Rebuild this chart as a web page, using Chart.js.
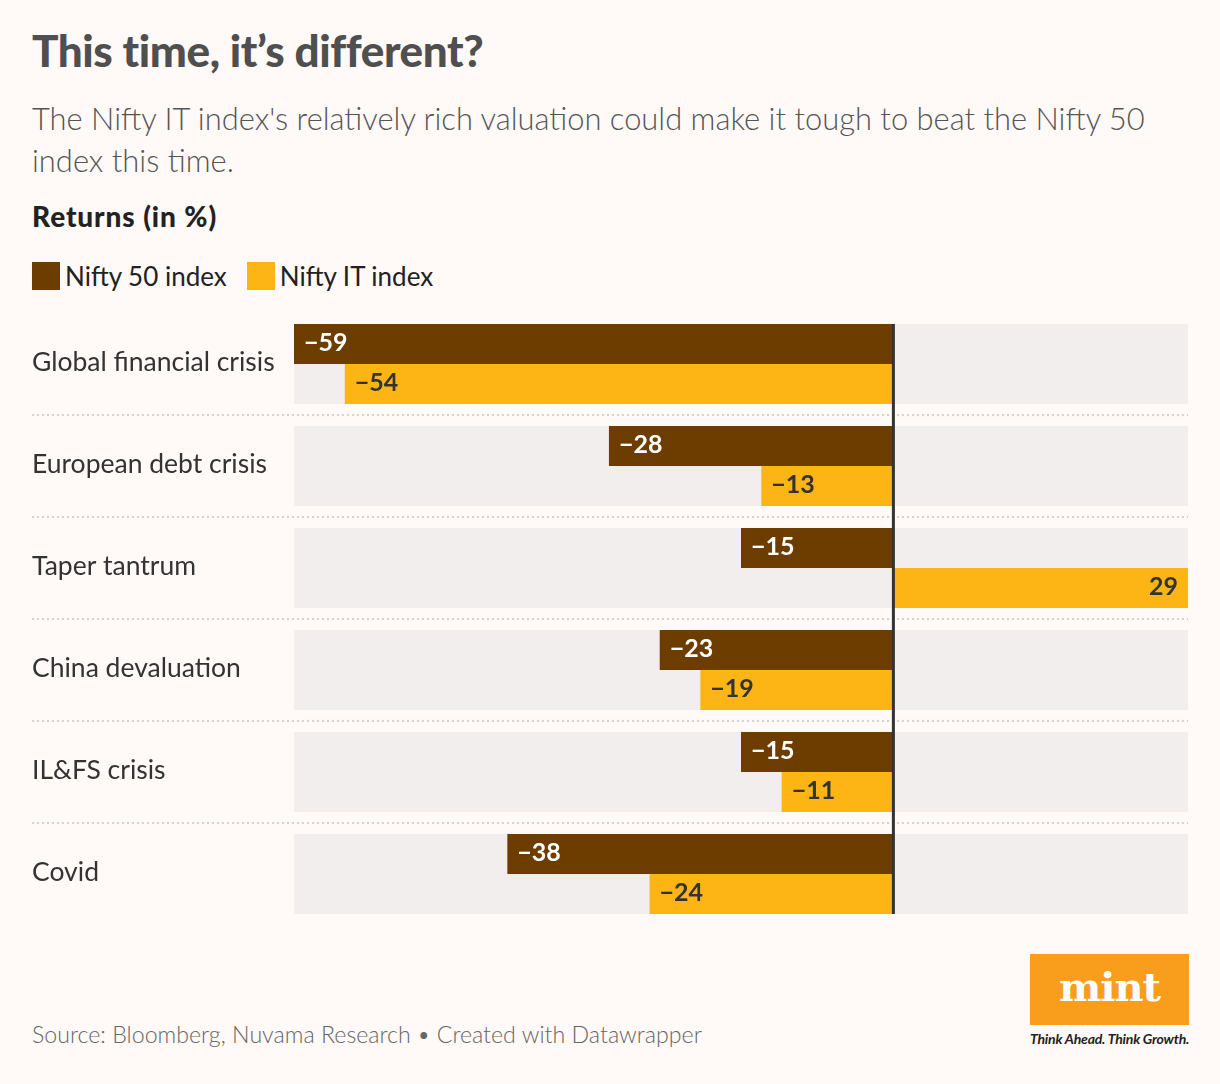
<!DOCTYPE html>
<html>
<head>
<meta charset="utf-8">
<script src="https://cdn.jsdelivr.net/npm/chart.js@4/dist/chart.umd.min.js"></script>
<style>
  html, body { margin:0; padding:0; background:#fff9f8; }
  body { width:1220px; height:1084px; position:relative; overflow:hidden; font-family: Lato, "Open Sans", sans-serif; }
  .title { position:absolute; left:32px; top:24px; font-size:44px; font-weight:900; color:#4f4f4f; letter-spacing:-0.4px; }
  .sub { position:absolute; left:32px; top:98px; width:1160px; font-size:30.9px; font-weight:300; color:#555; line-height:42px; }
  .ret { position:absolute; left:32px; top:199px; font-size:28px; font-weight:900; color:#222; letter-spacing:0.9px; }
  .legend { position:absolute; left:32px; top:260px; font-size:26px; color:#222; display:flex; align-items:center; }
  .legend .sw { width:28px; height:28px; display:inline-block; margin-right:5px; }
  .legend .item { display:flex; align-items:center; margin-right:20px; }
  .src { position:absolute; left:32px; top:1020px; font-size:23.2px; font-weight:300; color:#666; }
  .logo { position:absolute; left:1030px; top:954px; width:159px; height:71px; background:#f99d1c; color:#fff; font-family:"DejaVu Serif", serif; font-weight:700; font-size:40px; text-align:center; line-height:66px; letter-spacing:-1px; }
  .tag { position:absolute; left:1030px; top:1030px; font-size:14px; font-weight:700; font-style:italic; color:#222; letter-spacing:-0.2px; }
  #wrap { position:absolute; left:0; top:313px; width:1220px; height:612px; }
</style>
</head>
<body>
<div class="title">This time, it’s different?</div>
<div class="sub">The Nifty IT index's relatively rich valuation could make it tough to beat the Nifty 50 index this time.</div>
<div class="ret">Returns (in %)</div>
<div class="legend">
  <span class="item"><span class="sw" style="background:#6d3d00"></span>Nifty 50 index</span>
  <span class="item"><span class="sw" style="background:#fdb515"></span>Nifty IT index</span>
</div>
<div id="wrap"><canvas id="c"></canvas></div>
<div class="src">Source: Bloomberg, Nuvama Research • Created with Datawrapper</div>
<div class="logo">mint</div>
<div class="tag">Think Ahead. Think Growth.</div>
<script>
const categories = ["Global financial crisis", "European debt crisis", "Taper tantrum", "China devaluation", "IL&FS crisis", "Covid"];
const nifty50 = [-59, -28, -15, -23, -15, -38];
const niftyIT = [-54, -13, 29, -19, -11, -24];
const seriesNames = ["Nifty 50 index", "Nifty IT index"];
const xMin = -59, xMax = 29;

const BROWN = "#6d3d00", YELLOW = "#fdb515", BAND = "#f2eeed";

const bgPlugin = {
  id: 'bg',
  beforeDatasetsDraw(chart) {
    const {ctx, chartArea, scales} = chart;
    const y = scales.y;
    const step = y.getPixelForValue(1) - y.getPixelForValue(0);
    const bandH = step * 80/102;
    ctx.save();
    ctx.fillStyle = BAND;
    categories.forEach((c, i) => {
      const cy = y.getPixelForValue(i);
      ctx.fillRect(chartArea.left, cy - bandH/2, chartArea.right - chartArea.left, bandH);
    });
    ctx.strokeStyle = "#d6d2d1";
    ctx.lineWidth = 2;
    ctx.setLineDash([2, 3]);
    for (let i = 0; i < categories.length - 1; i++) {
      const yy = Math.round((y.getPixelForValue(i) + y.getPixelForValue(i+1)) / 2);
      ctx.beginPath();
      ctx.moveTo(32, yy);
      ctx.lineTo(chartArea.right, yy);
      ctx.stroke();
    }
    ctx.setLineDash([]);
    ctx.font = "26.5px Lato, 'Open Sans', sans-serif";
    ctx.fillStyle = "#333";
    ctx.textAlign = "left";
    ctx.textBaseline = "middle";
    categories.forEach((c, i) => {
      ctx.fillText(c, 32, y.getPixelForValue(i) - 2);
    });
    ctx.restore();
  },
  afterDatasetsDraw(chart) {
    const {ctx, scales} = chart;
    const x = scales.x, y = scales.y;
    const step = y.getPixelForValue(1) - y.getPixelForValue(0);
    const bandH = step * 80/102;
    ctx.save();
    ctx.font = "bold 25px Lato, 'Open Sans', sans-serif";
    ctx.textBaseline = "middle";
    chart.data.datasets.forEach((ds, di) => {
      const meta = chart.getDatasetMeta(di);
      meta.data.forEach((bar, i) => {
        const v = ds.data[i];
        const txt = (v < 0 ? "\u2212" + Math.abs(v) : String(v));
        ctx.fillStyle = di === 0 ? "#ffffff" : "#333333";
        if (v < 0) { ctx.textAlign = "left"; ctx.fillText(txt, bar.x + 10, bar.y - 1); }
        else { ctx.textAlign = "right"; ctx.fillText(txt, bar.x - 10, bar.y - 1); }
      });
    });
    const zx = x.getPixelForValue(0);
    const top = y.getPixelForValue(0) - bandH/2;
    const bot = y.getPixelForValue(categories.length - 1) + bandH/2;
    ctx.fillStyle = "#333333";
    ctx.fillRect(zx - 1.5, top, 3, bot - top);
    ctx.restore();
  }
};

new Chart(document.getElementById('c'), {
  type: 'bar',
  data: {
    labels: categories,
    datasets: [
      { label: seriesNames[0], data: nifty50, backgroundColor: BROWN, categoryPercentage: 80/102, barPercentage: 1 },
      { label: seriesNames[1], data: niftyIT, backgroundColor: YELLOW, categoryPercentage: 80/102, barPercentage: 1 }
    ]
  },
  options: {
    indexAxis: 'y',
    responsive: true,
    maintainAspectRatio: false,
    animation: false,
    devicePixelRatio: 1,
    layout: { autoPadding: false, padding: { left: 294, right: 32, top: 0, bottom: 0 } },
    plugins: { legend: { display: false }, tooltip: { enabled: false } },
    scales: {
      x: { display: false, min: xMin, max: xMax },
      y: { display: false, offset: true }
    }
  },
  plugins: [bgPlugin]
});
</script>
</body>
</html>
